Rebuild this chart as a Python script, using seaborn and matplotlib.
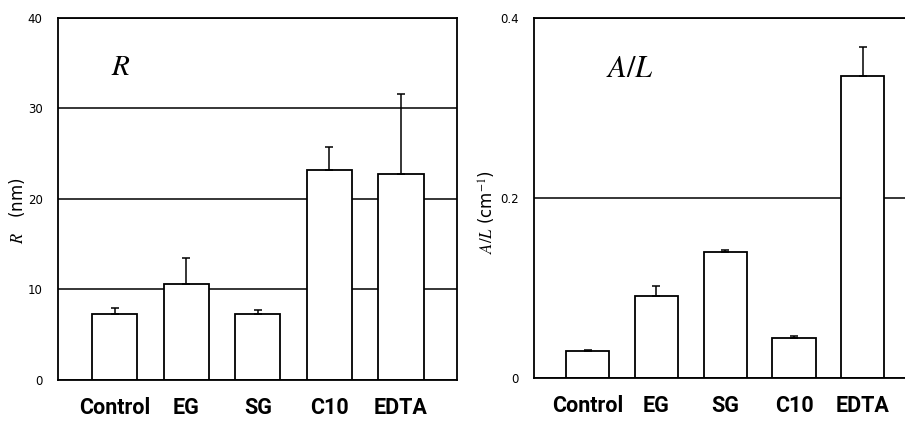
import matplotlib
matplotlib.use('Agg')
import matplotlib.pyplot as plt
import seaborn as sns
import numpy as np

# data
groups = ['Control', 'EG', 'SG', 'C10', 'EDTA']
r_mean = [7.3, 10.6, 7.3, 23.2, 22.8]
r_upper = [8.0, 13.5, 7.7, 25.7, 31.6]
al_mean = [0.030, 0.091, 0.140, 0.045, 0.336]
al_upper = [0.0315, 0.102, 0.142, 0.0465, 0.368]
r_ticks = [0, 10, 20, 30, 40]
al_ticks = [0, 0.2, 0.4]
al_tick_labels = ['0', '0.2', '0.4']

sns.set_style('white')
plt.rcParams['font.family'] = ['DejaVu Sans']
plt.rcParams['mathtext.fontset'] = 'stix'
plt.rcParams['text.color'] = 'black'
plt.rcParams['axes.labelcolor'] = 'black'
plt.rcParams['ytick.color'] = 'black'
plt.rcParams['xtick.color'] = 'black'

label_font = {'family': ['Roboto', 'DejaVu Sans'], 'weight': 'semibold', 'size': 15.5}

fig = plt.figure(figsize=(9.05, 4.21), dpi=100)
ax1 = fig.add_axes([0.0641, 0.0974, 0.4409, 0.8599])
ax2 = fig.add_axes([0.5901, 0.1021, 0.4100, 0.8551])


def draw_panel(ax, means, upper, ylim, xlim):
    sns.barplot(x=groups, y=means, ax=ax, color='white', edgecolor='black',
                linewidth=1.3, width=0.63, errorbar=None, saturation=1)
    pos = np.arange(len(groups))
    m = np.array(means)
    up = np.array(upper) - m
    ax.errorbar(pos, m, yerr=[np.zeros_like(m), up], fmt='none', ecolor='black',
                elinewidth=1.1, capsize=3, capthick=1.1, zorder=5)
    ax.set_ylim(*ylim)
    ax.set_xlim(*xlim)
    ax.yaxis.grid(True, color='black', linewidth=1.1)
    ax.set_axisbelow(True)
    ax.tick_params(axis='x', length=0, pad=12)
    ax.tick_params(axis='y', length=0, pad=11, labelsize=8.5)
    for lab in ax.get_xticklabels():
        lab.set_fontproperties(label_font)
    for s in ax.spines.values():
        s.set_color('black')
        s.set_linewidth(1.3)


draw_panel(ax1, r_mean, r_upper, (0, 40), (-0.789, 4.782))
ax1.set_yticks(r_ticks)
ax1.set_ylabel('$R$   (nm)', fontsize=12)
ax1.yaxis.set_label_coords(-0.078, 0.467)
ax1.text(0.158, 0.865, '$R$', transform=ax1.transAxes, fontsize=21,
         ha='center', va='center')

draw_panel(ax2, al_mean, al_upper, (0, 0.4), (-0.778, 4.615))
ax2.set_yticks(al_ticks, labels=al_tick_labels)
ax2.spines['right'].set_visible(False)
ax2.set_ylabel('$A/L$ (cm$^{-1}$)', fontsize=12)
ax2.yaxis.set_label_coords(-0.097, 0.461)
ax2.text(0.259, 0.861, '$A/L$', transform=ax2.transAxes, fontsize=22,
         ha='center', va='center')

fig.savefig('out.png', dpi=100)
